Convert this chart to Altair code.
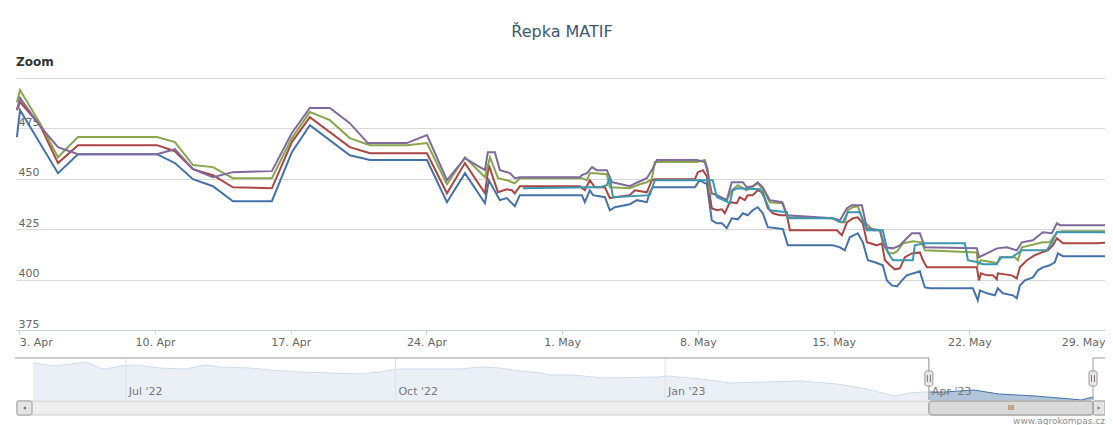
import altair as alt
import pandas as pd

# ---------------- data ----------------
T0 = pd.Timestamp("2023-04-03 00:00")          # day 0 of main series
NAV_T0 = pd.Timestamp("2022-05-30 08:00")      # day 0 of navigator series
SEL_START = pd.Timestamp("2023-04-01 00:00")
SEL_END = pd.Timestamp("2023-05-27 00:00")
NAV_END = pd.Timestamp("2023-05-27 00:00")

SERIES_COLORS = ["#4572A7", "#AA4643", "#89A54E", "#80699B", "#3D96AE"]

# (days since 3 Apr 2023, price EUR/t)
blue = [(-0.12, 470.7), (0.04, 484.1), (2.0, 452.8), (3.03, 462.2), (7.1, 462.2), (8.03, 457.8), (8.96, 449.8),
        (9.99, 446.3), (11.02, 438.9), (13.03, 438.9), (14.06, 463.2), (14.99, 476.6), (17.05, 461.7), (18.09, 459.3),
        (21.03, 459.3), (22.06, 438.4), (22.99, 452.8), (24.02, 437.9), (24.22, 449.3), (24.79, 439.4), (25.15, 440.4),
        (25.56, 436.4), (25.82, 441.9), (29.02, 441.9), (29.17, 438.4), (29.43, 444.3), (29.59, 441.9), (30.21, 440.9),
        (30.46, 434.4), (30.72, 435.9), (31.49, 437.4), (31.86, 439.4), (32.37, 438.4), (32.52, 443.3), (32.68, 445.8),
        (34.85, 445.8), (35.1, 449.3), (35.36, 447.8), (35.46, 447.8), (35.72, 429.4), (35.98, 427.9), (36.24, 427.9),
        (36.49, 425.5), (36.75, 430.4), (37.06, 429.9), (37.32, 432.9), (37.57, 431.9), (37.83, 434.4), (38.09, 435.9),
        (38.35, 432.9), (38.61, 426.0), (39.08, 425.5), (39.39, 425.0), (39.64, 417.0), (41.96, 417.0), (42.33, 416.0),
        (42.58, 414.5), (42.84, 421.0), (43.25, 423.0), (43.51, 418.5), (43.77, 409.6), (44.13, 408.6), (44.54, 407.1),
        (44.75, 399.6), (45.01, 397.1), (45.27, 396.6), (45.53, 399.6), (45.78, 402.1), (46.45, 404.1), (46.71, 396.1),
        (46.97, 395.7), (49.19, 395.7), (49.44, 389.7), (49.55, 394.7), (49.91, 393.2), (50.32, 392.2), (50.47, 395.7),
        (50.73, 393.2), (51.25, 392.2), (51.45, 390.7), (51.61, 397.1), (51.87, 399.6), (52.28, 401.1), (52.54, 404.6),
        (52.79, 406.1), (53.15, 407.1), (53.41, 408.6), (53.57, 413.0), (53.83, 411.6), (54.19, 411.6), (56.25, 411.6)]

red = [(-0.12, 484.1), (0.04, 488.1), (1.07, 476.6), (2.0, 457.8), (3.03, 466.7), (7.1, 466.7), (8.03, 463.7),
       (8.96, 454.8), (9.99, 451.8), (11.02, 445.8), (13.03, 445.3), (14.06, 468.2), (14.99, 480.6), (17.05, 465.7),
       (18.09, 462.7), (21.03, 462.7), (22.06, 442.8), (22.99, 457.8), (24.02, 442.8), (24.22, 456.8), (24.69, 443.3),
       (25.15, 444.8), (25.41, 444.3), (25.56, 442.8), (25.82, 446.3), (28.92, 446.3), (29.17, 444.3), (29.43, 449.3),
       (29.69, 445.8), (30.21, 445.8), (30.46, 440.4), (30.72, 440.9), (31.49, 441.9), (31.75, 444.3), (32.37, 443.3),
       (32.63, 449.3), (32.78, 449.8), (34.85, 449.8), (35.0, 453.3), (35.26, 454.3), (35.46, 451.3), (35.72, 435.4),
       (35.98, 434.4), (36.24, 434.9), (36.39, 432.9), (36.65, 438.4), (37.01, 437.9), (37.16, 440.9), (37.42, 439.4),
       (37.57, 441.9), (37.83, 441.9), (38.09, 444.3), (38.35, 443.3), (38.61, 435.4), (38.87, 432.9), (39.23, 431.9),
       (39.59, 431.9), (39.75, 424.5), (42.17, 424.5), (42.43, 422.0), (42.69, 428.4), (43.0, 430.4), (43.25, 430.9),
       (43.51, 427.9), (43.72, 418.5), (44.23, 417.0), (44.49, 418.0), (44.65, 409.6), (44.91, 407.1), (45.16, 405.1),
       (45.42, 405.6), (45.68, 411.1), (46.04, 413.0), (46.45, 413.5), (46.61, 409.6), (46.81, 406.1), (49.39, 406.1),
       (49.5, 399.6), (49.6, 403.1), (49.91, 402.1), (50.22, 402.1), (50.42, 400.1), (50.47, 403.1), (51.19, 402.1),
       (51.45, 400.6), (51.61, 406.1), (51.97, 409.6), (52.38, 412.1), (52.74, 413.5), (53.05, 414.5), (53.31, 417.0),
       (53.52, 420.5), (53.83, 418.0), (55.58, 418.0), (56.25, 418.5)]

green = [(-0.12, 488.0), (0.04, 494.0), (1.07, 477.6), (2.0, 460.7), (3.03, 470.7), (7.1, 470.7), (8.03, 468.2),
         (8.96, 456.8), (9.99, 455.8), (11.02, 450.3), (13.03, 450.3), (14.06, 470.2), (14.99, 483.1), (16.02, 479.1),
         (17.05, 470.2), (18.09, 466.7), (19.99, 466.7), (21.03, 467.7), (22.06, 447.3), (22.99, 460.7), (24.02, 450.8),
         (24.28, 460.7), (24.69, 450.3), (25.15, 449.3), (25.56, 447.8), (25.82, 450.3), (29.02, 450.3), (29.28, 449.3),
         (29.43, 452.8), (29.69, 452.8), (30.31, 452.3), (30.46, 445.8), (31.49, 445.3), (32.01, 447.3), (32.37, 448.3),
         (32.63, 449.8), (32.78, 458.3), (34.95, 458.3), (35.36, 459.3), (35.52, 454.3), (35.62, 442.8), (35.98, 441.9),
         (36.49, 439.4), (36.75, 444.3), (37.06, 446.8), (37.52, 444.3), (37.78, 445.8), (38.09, 447.8), (38.45, 443.3),
         (38.71, 438.4), (39.39, 437.9), (39.64, 430.9), (41.96, 430.4), (42.33, 428.4), (42.58, 428.4), (42.74, 434.4),
         (43.0, 435.9), (43.25, 436.4), (43.51, 429.4), (44.03, 424.5), (44.39, 424.5), (44.54, 418.0), (44.8, 413.5),
         (45.06, 413.0), (45.27, 414.0), (45.58, 418.0), (46.09, 419.0), (46.55, 418.5), (46.71, 414.5), (49.39, 413.5),
         (49.44, 407.1), (49.6, 409.6), (50.22, 408.6), (50.42, 408.1), (50.68, 411.1), (51.35, 411.1), (51.51, 409.6),
         (51.71, 416.0), (52.79, 418.5), (53.15, 418.5), (53.52, 423.5), (53.83, 424.0), (56.25, 424.0)]

purple = [(-0.12, 484.1), (0.04, 490.1), (1.07, 476.1), (2.0, 465.7), (3.03, 462.2), (7.1, 462.2), (8.03, 464.7),
          (8.96, 454.8), (9.99, 450.8), (11.02, 453.3), (13.03, 453.8), (14.06, 472.7), (14.99, 485.1), (16.02, 485.1),
          (17.05, 477.6), (17.98, 467.7), (19.99, 467.7), (21.03, 471.7), (22.06, 449.3), (22.99, 460.2), (24.02, 454.3),
          (24.17, 463.2), (24.53, 463.2), (24.79, 454.3), (25.31, 452.8), (25.56, 450.3), (25.82, 450.8), (28.92, 450.8),
          (29.02, 451.8), (29.28, 452.8), (29.54, 455.8), (29.79, 454.3), (30.31, 454.3), (30.57, 448.3), (30.82, 447.8),
          (31.49, 446.3), (31.91, 448.3), (32.37, 450.3), (32.63, 454.3), (32.89, 459.3), (34.95, 459.3), (35.36, 458.3),
          (35.52, 452.8), (35.72, 442.8), (35.98, 441.9), (36.49, 439.4), (36.75, 448.3), (37.32, 448.3), (37.52, 445.8),
          (37.83, 446.3), (38.09, 448.3), (38.35, 445.8), (38.71, 439.4), (39.34, 438.4), (39.59, 431.9), (41.96, 430.4),
          (42.33, 429.4), (42.69, 435.4), (42.94, 436.9), (43.46, 436.9), (43.72, 425.5), (44.39, 424.5), (44.65, 416.0),
          (45.06, 415.5), (45.42, 417.0), (45.68, 419.5), (46.04, 423.0), (46.45, 423.0), (46.71, 416.0), (49.39, 415.5),
          (49.5, 411.1), (49.91, 413.0), (50.42, 415.5), (50.94, 416.0), (51.45, 414.5), (51.71, 418.5), (52.28, 419.5),
          (52.79, 423.5), (53.26, 423.0), (53.52, 428.0), (53.67, 427.0), (56.25, 427.0)]

cyan = [(25.98, 445.3), (29.43, 445.8), (29.95, 445.8), (30.31, 446.8), (30.46, 450.8), (30.62, 440.9), (32.52, 441.9),
        (32.78, 449.3), (35.77, 449.3), (35.98, 440.9), (36.65, 437.9), (36.8, 444.3), (37.06, 445.3), (38.19, 444.8),
        (38.45, 440.4), (38.71, 434.4), (39.59, 433.4), (39.64, 430.4), (41.96, 430.4), (42.17, 429.4), (42.48, 428.4),
        (42.74, 433.4), (43.36, 433.4), (43.72, 424.5), (44.54, 424.5), (44.8, 413.5), (45.06, 409.6), (46.09, 409.6),
        (46.19, 417.0), (46.71, 418.0), (48.77, 418.0), (48.93, 409.6), (49.44, 408.6), (49.7, 407.6), (50.42, 407.6),
        (50.58, 411.1), (51.19, 411.1), (51.35, 412.1), (51.71, 414.5), (53.0, 414.5), (53.26, 418.5), (53.52, 423.5),
        (55.89, 423.5), (56.25, 423.0)]

# navigator (days since 30 May 2022 08:00, price)
nav = [(0, 666.0), (7.5, 643.5), (18.1, 673.5), (22.9, 628.5), (24.6, 621.0), (29.7, 643.5), (34.8, 651.0),
       (43.3, 628.5), (51.9, 621.0), (58.7, 651.0), (63.8, 636.0), (74.0, 628.5), (80.9, 613.5), (91.1, 598.5),
       (101.3, 591.0), (111.6, 583.5), (118.4, 598.5), (121.8, 613.5), (125.2, 621.0), (135.4, 621.0), (145.7, 621.0),
       (152.5, 636.0), (159.3, 628.5), (166.2, 606.0), (173.0, 591.0), (176.4, 576.0), (183.9, 576.0), (194.8, 553.5),
       (213.2, 561.0), (216.6, 568.5), (227.9, 546.0), (237.8, 516.0), (249.7, 523.5), (262.0, 531.0), (274.3, 508.5),
       (282.8, 478.5), (294.1, 418.5), (298.9, 441.0), (303.6, 448.5), (311.1, 448.5), (321.0, 463.5), (329.6, 433.5),
       (341.9, 418.5), (354.1, 396.0), (357.6, 388.5), (360.3, 403.5), (361.7, 411.0)]

Y_TICKS = [375, 400, 425, 450, 475, 500]
X_TICKS = ["2023-04-03", "2023-04-10", "2023-04-17", "2023-04-24", "2023-05-01",
           "2023-05-08", "2023-05-15", "2023-05-22", "2023-05-29"]
NAV_TICKS = ["2022-07-01", "2022-10-01", "2023-01-01", "2023-04-01"]
NAV_MIN, NAV_MAX = 388.5, 703.5

FONT = "DejaVu Sans"


def dt(ts):
    ts = pd.Timestamp(ts)
    return alt.DateTime(year=ts.year, month=ts.month, date=ts.day, hours=ts.hour, minutes=ts.minute)


# ---------------- main lines ----------------
W, H = 1089, 252
x_main = alt.X("t:T",
               scale=alt.Scale(domain=[dt("2023-04-02 20:00"), dt("2023-05-29 00:00")]),
               axis=alt.Axis(values=[dt(v) for v in X_TICKS], format="%-d. %b", labelFlush=8,
                             tickSize=4, tickColor="#C0D0E0", domainColor="#C0D0E0", grid=False,
                             labelColor="#666666", labelFont=FONT, labelFontSize=11, labelPadding=2,
                             labelOverlap=False),
               title=None)
y_main = alt.Y("v:Q",
               scale=alt.Scale(domain=[375, 500], nice=False, zero=False),
               axis=alt.Axis(values=Y_TICKS, labelExpr="datum.value == 500 ? '' : datum.label",
                             grid=True, gridColor="#D8D8D8", domain=False, ticks=False, tickSize=0,
                             labelAlign="left", labelPadding=-2, labelBaseline="alphabetic", labelOffset=-3,
                             labelColor="#666666", labelFont=FONT, labelFontSize=11),
               title=None)

line_layers = []
for pts, col in zip([blue, red, green, purple, cyan], SERIES_COLORS):
    df = pd.DataFrame(pts, columns=["d", "v"])
    df["t"] = T0 + pd.to_timedelta(df["d"], unit="D")
    line_layers.append(
        alt.Chart(df[["t", "v"]]).mark_line(color=col, strokeWidth=2, clip=True).encode(x=x_main, y=y_main)
    )
main = alt.layer(*line_layers)

# ---------------- navigator ----------------
nav_df = pd.DataFrame(nav, columns=["d", "v"])
nav_df["t"] = NAV_T0 + pd.to_timedelta(nav_df["d"], unit="D")
nav_df = nav_df[["t", "v"]]

nav_xs = alt.Scale(domain=[dt(NAV_T0), dt(NAV_END)], range=[17, 1077])
nav_ys = alt.Scale(domain=[NAV_MIN, NAV_MAX], range=[322, 280], nice=False, zero=False)

nav_area = alt.Chart(nav_df).mark_area(color="#4572A7", opacity=0.42).encode(
    x=alt.X("t:T", scale=nav_xs, axis=None),
    y=alt.Y("v:Q", scale=nav_ys, axis=None),
    y2=alt.Y2(datum=NAV_MIN))
nav_line = alt.Chart(nav_df).mark_line(color="#4572A7", strokeWidth=1).encode(
    x=alt.X("t:T", scale=nav_xs, axis=None),
    y=alt.Y("v:Q", scale=nav_ys, axis=None))

sel = pd.DataFrame({"a": [SEL_START], "b": [SEL_END], "n0": [NAV_T0],
                    "mid": [SEL_START + (SEL_END - SEL_START) / 2]})
mask = alt.Chart(sel).mark_rect(fill="white", opacity=0.75).encode(
    x=alt.X("n0:T", scale=nav_xs, axis=None), x2="a:T", y=alt.value(280), y2=alt.value(322))

ticks_df = pd.DataFrame({"t": pd.to_datetime(NAV_TICKS)})
nav_grid = alt.Chart(ticks_df).mark_rule(color="#DDE3EA", strokeWidth=1).encode(
    x=alt.X("t:T", scale=nav_xs, axis=None), y=alt.value(280), y2=alt.value(322))
nav_labels = alt.Chart(ticks_df).mark_text(align="left", dx=3, baseline="alphabetic", font=FONT,
                                           fontSize=11, color="#777777").encode(
    x=alt.X("t:T", scale=nav_xs, axis=None), y=alt.value(317),
    text=alt.Text("t:T", format="%b '%y"))

OUT = "#9A9A9A"
out_left = alt.Chart(sel).mark_rule(color=OUT, xOffset=-18).encode(
    x=alt.X("n0:T", scale=nav_xs, axis=None), x2="a:T", y=alt.value(280))
out_vert = alt.Chart(pd.DataFrame({"h": [SEL_START, SEL_END]})).mark_rule(color=OUT).encode(
    x=alt.X("h:T", scale=nav_xs, axis=None), y=alt.value(280), y2=alt.value(322))
out_right = alt.Chart(sel).mark_rule(color=OUT).encode(
    x=alt.X("b:T", scale=nav_xs, axis=None), x2=alt.value(1089), y=alt.value(280))

handles_df = pd.DataFrame({"h": [SEL_START, SEL_END]})
handles = alt.Chart(handles_df).mark_rect(fill="#EBE7E8", stroke="#9A9A9A", cornerRadius=2,
                                          xOffset=-4, x2Offset=4).encode(
    x=alt.X("h:T", scale=nav_xs, axis=None), x2="h:T", y=alt.value(293), y2=alt.value(308))
grip1 = alt.Chart(handles_df).mark_rule(color="#777777", xOffset=-1.5).encode(
    x=alt.X("h:T", scale=nav_xs, axis=None), y=alt.value(297), y2=alt.value(304))
grip2 = alt.Chart(handles_df).mark_rule(color="#777777", xOffset=1.5).encode(
    x=alt.X("h:T", scale=nav_xs, axis=None), y=alt.value(297), y2=alt.value(304))

one = pd.DataFrame({"k": [0]})
track = alt.Chart(one).mark_rect(fill="#EFEFEF", stroke="#CCCCCC").encode(
    x=alt.value(1), x2=alt.value(1089), y=alt.value(323), y2=alt.value(337))
btn_l = alt.Chart(one).mark_rect(fill="#E4E4E4", stroke="#999999", cornerRadius=2).encode(
    x=alt.value(1), x2=alt.value(16), y=alt.value(323), y2=alt.value(337))
btn_r = alt.Chart(one).mark_rect(fill="#E4E4E4", stroke="#999999", cornerRadius=2).encode(
    x=alt.value(1077), x2=alt.value(1089), y=alt.value(323), y2=alt.value(337))
arr_l = alt.Chart(one).mark_point(shape="triangle-left", filled=True, size=12, color="#444444").encode(
    x=alt.value(8.5), y=alt.value(330))
arr_r = alt.Chart(one).mark_point(shape="triangle-right", filled=True, size=12, color="#444444").encode(
    x=alt.value(1083), y=alt.value(330))
thumb = alt.Chart(sel).mark_rect(fill="#DADADA", stroke="#8C8C8C", cornerRadius=3).encode(
    x=alt.X("a:T", scale=nav_xs, axis=None), x2="b:T", y=alt.value(323), y2=alt.value(337))
thumb_grip = alt.Chart(sel).mark_text(text="III", font=FONT, fontSize=7, color="#555555",
                                      baseline="middle").encode(
    x=alt.X("mid:T", scale=nav_xs, axis=None), y=alt.value(330))

navigator = alt.layer(nav_area, nav_line, mask, nav_grid, nav_labels, out_left, out_vert, out_right,
                      track, btn_l, btn_r, arr_l, arr_r, thumb, thumb_grip, handles, grip1, grip2)

# ---------------- texts ----------------
title = alt.Chart(pd.DataFrame({"s": ["Řepka MATIF"]})).mark_text(
    font=FONT, fontSize=16, color="#3E576F", align="center", baseline="alphabetic").encode(
    text="s:N", x=alt.value(546), y=alt.value(-41))
zoom = alt.Chart(pd.DataFrame({"s": ["Zoom"]})).mark_text(
    font=FONT, fontSize=12, fontWeight="bold", color="#333333", align="left", baseline="alphabetic").encode(
    text="s:N", x=alt.value(0), y=alt.value(-12))
credit = alt.Chart(pd.DataFrame({"s": ["www.agrokompas.cz"]})).mark_text(
    font=FONT, fontSize=9, color="#909090", align="right", baseline="alphabetic").encode(
    text="s:N", x=alt.value(1089), y=alt.value(346))
texts = alt.layer(title, zoom, credit)

chart = alt.layer(main, navigator, texts).resolve_scale(x="independent", y="independent").properties(
    width=W, height=H,
    autosize=alt.AutoSizeParams(type="none"),
    padding={"left": 8, "top": 70, "right": 0, "bottom": 95},
    background="white",
).configure_view(stroke=None)

chart.save("out.html", embed_options={"renderer": "svg", "actions": False})
